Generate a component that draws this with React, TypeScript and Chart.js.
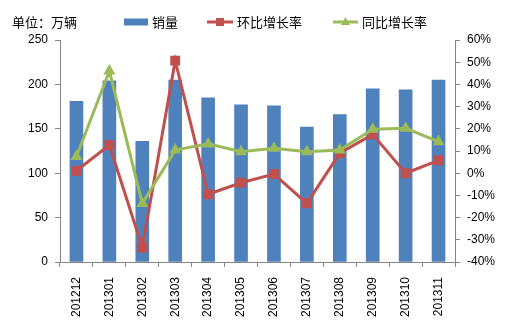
import React, { useEffect, useRef } from "react";
import { Chart, registerables } from "chart.js";

Chart.register(...registerables);

const categories = ["201212", "201301", "201302", "201303", "201304", "201305", "201306", "201307", "201308", "201309", "201310", "201311"];
const sales = [181, 204, 136, 205, 185, 177, 176, 152, 166, 195, 194, 205];
const momGrowth = [1.1, 12.7, -33.5, 50.7, -9.5, -4.3, -0.4, -13.6, 9, 17.5, 0, 5.8];
const yoyGrowth = [7.5, 46, -13.6, 10.4, 13.2, 9.7, 11.2, 9.7, 10.4, 19.8, 20.2, 14.2];
const unitLabel = "单位：万辆";
const seriesNames = ["销量", "环比增长率", "同比增长率"];

const BLUE = "#4F81BD";
const RED = "#C0504D";
const GREEN = "#9BBB59";
const AXIS = "#868686";
const CJK = '"Noto Sans CJK SC", "Noto Sans", sans-serif';
const NUM = '"Liberation Sans", Arial, sans-serif';

const headerPlugin = {
  id: "header",
  afterDraw(chart: any) {
    const ctx = chart.ctx;
    ctx.save();
    ctx.font = `13px ${CJK}`;
    ctx.fillStyle = "#000";
    ctx.textBaseline = "middle";
    ctx.textAlign = "left";
    const y = 22;
    ctx.fillText(unitLabel, 12, y);
    // bar legend
    ctx.fillStyle = BLUE;
    ctx.fillRect(124, y - 3.5, 24, 7);
    ctx.fillStyle = "#000";
    ctx.fillText(seriesNames[0], 152, y);
    // red line legend
    ctx.strokeStyle = RED;
    ctx.lineWidth = 3;
    ctx.beginPath();
    ctx.moveTo(207, y);
    ctx.lineTo(233, y);
    ctx.stroke();
    ctx.fillStyle = RED;
    ctx.fillRect(216, y - 4, 8, 8);
    ctx.fillStyle = "#000";
    ctx.fillText(seriesNames[1], 237, y);
    // green line legend
    ctx.strokeStyle = GREEN;
    ctx.beginPath();
    ctx.moveTo(333, y);
    ctx.lineTo(358, y);
    ctx.stroke();
    ctx.fillStyle = GREEN;
    ctx.beginPath();
    ctx.moveTo(345.5, y - 5);
    ctx.lineTo(350, y + 3);
    ctx.lineTo(341, y + 3);
    ctx.closePath();
    ctx.fill();
    ctx.fillStyle = "#000";
    ctx.fillText(seriesNames[2], 362, y);
    ctx.restore();
  },
};

export default function App() {
  const ref = useRef<HTMLCanvasElement>(null);
  useEffect(() => {
    if (!ref.current) return;
    const chart = new Chart(ref.current, {
      type: "bar",
      data: {
        labels: categories,
        datasets: [
          {
            type: "bar",
            label: seriesNames[0],
            data: sales,
            backgroundColor: BLUE,
            barThickness: 13,
            yAxisID: "y",
            order: 2,
          },
          {
            type: "line",
            label: seriesNames[1],
            data: momGrowth,
            borderColor: RED,
            backgroundColor: RED,
            borderWidth: 3,
            pointStyle: "rect",
            pointRadius: 7,
            pointBorderWidth: 0,
            yAxisID: "y1",
            order: 1,
          },
          {
            type: "line",
            label: seriesNames[2],
            data: yoyGrowth,
            borderColor: GREEN,
            backgroundColor: GREEN,
            borderWidth: 3,
            pointStyle: "triangle",
            pointRadius: 7,
            pointBorderWidth: 0,
            yAxisID: "y1",
            order: 0,
          },
        ],
      } as any,
      options: {
        animation: false,
        responsive: true,
        maintainAspectRatio: false,
        layout: { padding: { top: 40, left: 0, right: 0, bottom: 0 } },
        plugins: { legend: { display: false }, tooltip: { enabled: false } },
        scales: {
          x: {
            offset: true,
            grid: { offset: true, drawOnChartArea: false, color: AXIS, tickLength: 5 },
            border: { color: AXIS },
            ticks: {
              color: "#000",
              font: { family: NUM, size: 12 },
              minRotation: 90,
              maxRotation: 90,
              padding: 10,
              autoSkip: false,
            },
            afterFit(scale: any) {
              scale.height = 70;
            },
          },
          y: {
            position: "left",
            min: 0,
            max: 250,
            ticks: { stepSize: 50, color: "#000", font: { family: NUM, size: 12 }, padding: 7 },
            grid: { drawOnChartArea: false, color: AXIS, tickLength: 5 },
            border: { color: AXIS },
            afterFit(scale: any) {
              scale.width = 60;
            },
          },
          y1: {
            position: "right",
            min: -40,
            max: 60,
            ticks: {
              stepSize: 10,
              color: "#000",
              font: { family: NUM, size: 12 },
              padding: 7,
              callback: (v: any) => `${v}%`,
            },
            grid: { drawOnChartArea: false, color: AXIS, tickLength: 5 },
            border: { color: AXIS },
            afterFit(scale: any) {
              scale.width = 54;
            },
          },
        },
      } as any,
      plugins: [headerPlugin],
    });
    return () => chart.destroy();
  }, []);
  return (
    <div style={{ position: "absolute", left: 0, top: 0, width: 509, height: 332, background: "#fff" }}>
      <canvas ref={ref} />
    </div>
  );
}
